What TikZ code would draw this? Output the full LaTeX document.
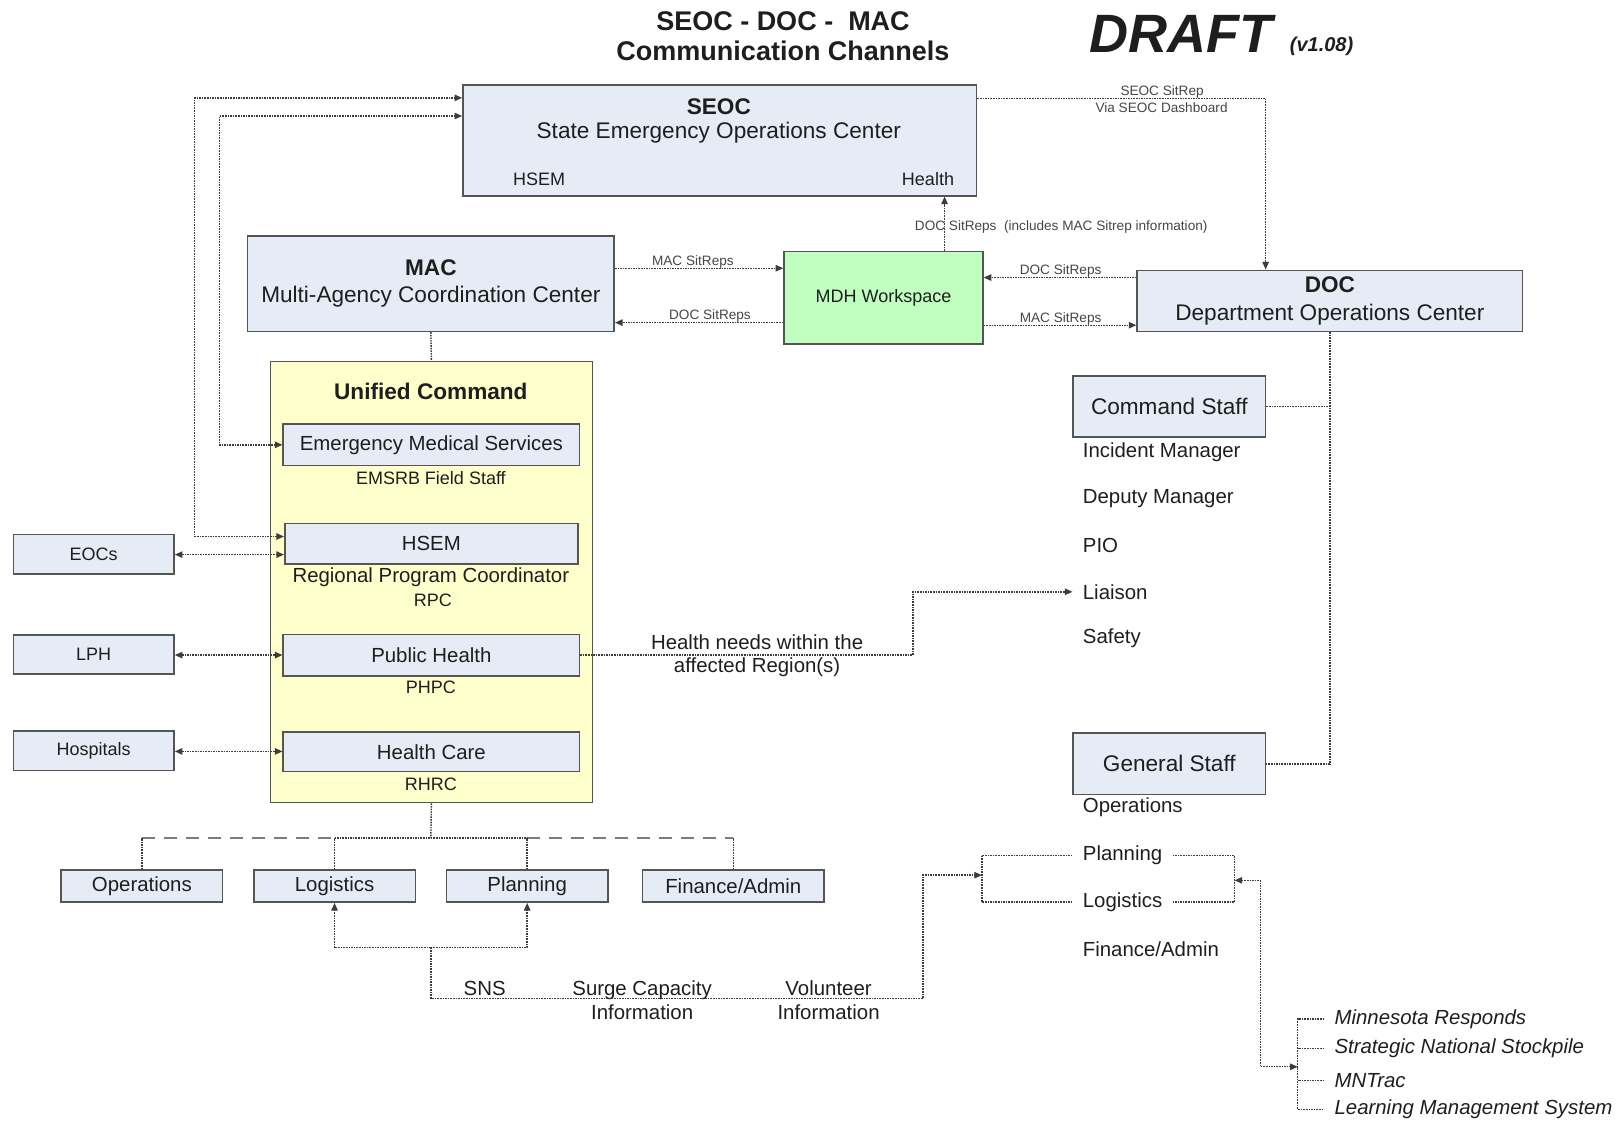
\documentclass[tikz,border=0pt]{standalone}
\usepackage{fontspec}
\setmainfont{Liberation Sans}
\usetikzlibrary{arrows.meta}
\newcommand\sx{0.51786pt}
\newcommand\fT{\fontsize{13.5}{15.5}\selectfont\bfseries}
\newcommand\fL{\fontsize{11.3}{13.6}\selectfont}
\newcommand\fM{\fontsize{10.2}{11.8}\selectfont}
\newcommand\fS{\fontsize{9}{10.8}\selectfont}
\newcommand\fX{\fontsize{6.8}{7.8}\selectfont}
\definecolor{boxblue}{RGB}{230,236,246}
\definecolor{boxline}{RGB}{85,85,85}
\definecolor{mdhgreen}{RGB}{192,255,192}
\definecolor{ucyellow}{RGB}{255,255,204}
\definecolor{conn}{RGB}{60,60,60}
\definecolor{busgray}{RGB}{125,125,125}
\definecolor{txt}{RGB}{30,30,30}
\definecolor{lbl}{RGB}{70,70,70}
\begin{document}
\begin{tikzpicture}[x=\sx,y=-\sx,
  box/.style={draw=boxline,line width=0.8pt,fill=boxblue,inner sep=0pt,align=center,text=txt},
  sz/.style 2 args={minimum width=#1*\sx,minimum height=#2*\sx},
  dl/.style={draw=conn,line width=0.7pt,dash pattern=on 0.8pt off 0.5pt},
  busd/.style={draw=busgray,line width=1.3pt,dash pattern=on 6.5pt off 4.5pt},
  arr/.style={-{Triangle[length=3.8pt,width=3.2pt]}},
  arrb/.style={{Triangle[length=3.8pt,width=3.2pt]}-{Triangle[length=3.8pt,width=3.2pt]}},
  lab/.style={text=lbl,inner sep=0pt,font=\fX},
  tn/.style={text=txt,inner sep=0pt},
  item/.style={anchor=west,inner xsep=5pt,inner ysep=0pt,text=txt,font=\fM}
]
\useasboundingbox (0,0) rectangle (1568,1087);

% titles
\node[tn,font=\fT] (t1) at (756,20) {SEOC - DOC -\ \ MAC};
\node[tn,font=\fT] (t2) at (756,49) {Communication Channels};
\node[tn,anchor=base west,font={\fontsize{27}{30}\selectfont\bfseries\itshape}] (draft) at (1052,51) {DRAFT};
\node[tn,anchor=base west,font={\fontsize{10}{12}\selectfont\bfseries\itshape}] (ver) at (1245,50) {(v1.08)};

% SEOC
\node[box,sz={496}{107}] (seoc) at (695,135.5) {};
\node[tn,font={\fL\bfseries}] (seoct) at (694,103.5) {SEOC};
\node[tn,font=\fL] (seocn) at (694,128.5) {State Emergency Operations Center};
\node[tn,font=\fS] (seoch) at (520.5,173.5) {HSEM};
\node[tn,font=\fS] (seochl) at (896,173) {Health};

% MAC, MDH, DOC
\node[box,sz={354}{92},font=\fL] (mac) at (416,274) {\textbf{MAC}\\Multi-Agency Coordination Center};
\node[box,sz={192}{89},fill=mdhgreen,font=\fS] (mdh) at (853,287.5) {MDH Workspace};
\node[box,sz={372}{59},font=\fL] (doc) at (1284,290.5) {\textbf{DOC}\\Department Operations Center};

% SEOC -> DOC
\node[lab] (l1) at (1122,88.5) {SEOC SitRep};
\node[lab] (l2) at (1121.5,103.5) {Via SEOC Dashboard};
\draw[dl,arr] (seoc.east |- 0,95) -| (1222,0 |- doc.north);

% MDH -> SEOC
\node[lab,anchor=west] (l3) at (883,219.5) {DOC SitReps\ \ (includes MAC Sitrep information)};
\draw[dl,arr] (912,0 |- mdh.north) -- (912,0 |- seoc.south);

% MAC <-> MDH
\node[lab] (l4) at (669,253) {MAC SitReps};
\draw[dl,arr] (mac.east |- 0,259) -- (mdh.west |- 0,259);
\node[lab] (l5) at (685.5,305.5) {DOC SitReps};
\draw[dl,arr] (mdh.west |- 0,311.5) -- (mac.east |- 0,311.5);

% DOC <-> MDH
\node[lab] (l6) at (1024,261.6) {DOC SitReps};
\draw[dl,arr] (doc.west |- 0,268) -- (mdh.east |- 0,268);
\node[lab] (l7) at (1024,308) {MAC SitReps};
\draw[dl,arr] (mdh.east |- 0,314) -- (doc.west |- 0,314);

% Unified Command
\node[box,sz={311}{426},fill=ucyellow] (uc) at (416.5,562) {};
\draw[dl] (mac.south) -- (uc.north);
\node[tn,font={\fL\bfseries}] (uct) at (416,377.5) {Unified Command};
\node[box,sz={286}{40},font=\fM] (ems) at (416.5,429.5) {Emergency Medical Services};
\node[tn,font=\fS] (emsrb) at (416,462) {EMSRB Field Staff};
\node[box,sz={283}{39},font=\fM] (hsem) at (416.5,525) {HSEM};
\node[tn,font=\fM] (rpc1) at (416,557) {Regional Program Coordinator};
\node[tn,font=\fS] (rpc2) at (418,579.5) {RPC};
\node[box,sz={286}{40},font=\fM] (ph) at (416.5,632.5) {Public Health};
\node[tn,font=\fS] (phpc) at (416,664) {PHPC};
\node[box,sz={286}{38},font=\fM] (hc) at (416.5,726) {Health Care};
\node[tn,font=\fS] (rhrc) at (416,757) {RHRC};

% left boxes
\node[box,sz={155}{38},font=\fS] (eocs) at (90.5,535) {EOCs};
\node[box,sz={155}{38},font=\fS] (lph) at (90.5,632) {LPH};
\node[box,sz={155}{38},font=\fS] (hosp) at (90.5,725) {Hospitals};
\draw[dl,arrb] (eocs.east |- 0,535.5) -- (hsem.west |- 0,535.5);
\draw[dl,arrb] (lph.east |- 0,632.5) -- (ph.west |- 0,632.5);
\draw[dl,arrb] (hosp.east |- 0,725.5) -- (hc.west |- 0,725.5);

% links to SEOC
\draw[dl,arrb] (hsem.west |- 0,518) -| (188,94.5) -- (seoc.west |- 0,94.5);
\draw[dl,arrb] (ems.west) -| (212,112) -- (seoc.west |- 0,112);

% staff
\node[box,sz={186}{59},font=\fL] (cs) at (1129,392.5) {Command Staff};
\node[box,sz={186}{59},font=\fL] (gs) at (1129,737.5) {General Staff};
\draw[dl] (doc.south) -- (doc.south |- gs.east) -- (gs.east);
\draw[dl] (cs.east) -- (cs.east -| doc.south);
\node[item] (im) at (1035.5,436.7) {Incident Manager};
\node[item] (dm) at (1035.5,481.6) {Deputy Manager};
\node[item] (pio) at (1035.5,526.5) {PIO};
\node[item] (liai) at (1035.5,571.4) {Liaison};
\node[item] (saf) at (1035.5,616.3) {Safety};
\node[item] (gops) at (1035.5,779.8) {Operations};
\node[item] (gplan) at (1035.5,826) {Planning};
\node[item] (glog) at (1035.5,871) {Logistics};
\node[item] (gfin) at (1035.5,916) {Finance/Admin};

% health needs
\node[tn,font=\fM,align=center] (hn) at (731,633) {Health needs within the\\affected Region(s)};
\draw[dl,arr] (ph.east) -| (881.5,0 |- liai.west) -- (liai.west);

% bottom section boxes
\node[box,sz={156}{31},font=\fM] (ops) at (137,855.5) {Operations};
\node[box,sz={156}{31},font=\fM] (logi) at (323,855.5) {Logistics};
\node[box,sz={156}{31},font=\fM] (plan) at (509,855.5) {Planning};
\node[box,sz={175}{31},font=\fM] (fin) at (708,855.5) {Finance/Admin};
\coordinate (busc) at (416,809);
\draw[dl] (uc.south) -- (busc);
\draw[busd] (ops.north |- busc) -- (logi.north |- busc);
\draw[busd] (plan.north |- busc) -- (fin.north |- busc);
\draw[dl] (logi.north |- busc) -- (plan.north |- busc);
\foreach \n in {ops,logi,plan,fin} \draw[dl] (\n.north) -- (\n.north |- busc);

% info flows
\node[tn,font=\fM] (snsl) at (468,954.5) {SNS};
\node[tn,font=\fM,align=center] (surge) at (620,966) {Surge Capacity\\Information};
\node[tn,font=\fM,align=center] (vol) at (800,966) {Volunteer\\Information};
\coordinate (j1) at (416,915);
\coordinate (j2) at (416,964);
\coordinate (gbl) at (948,845);
\draw[dl,arr] (j1) -| (logi.south);
\draw[dl,arr] (j1) -| (plan.south);
\draw[dl,arr] (j1) -- (j2) -| (891,845) -- (gbl);
\draw[dl] (gplan.west) -| (gbl) |- (glog.west);
\coordinate (gbr) at (1192,850);
\draw[dl] (gplan.east) -| (gbr) |- (glog.east);
\coordinate (ib) at (1253,1030);
\draw[dl,arrb] (gbr) -| (1217,1030) -- (ib);

% resources
\node[item,font={\fM\itshape}] (mnr) at (1278.5,984) {Minnesota Responds};
\node[item,font={\fM\itshape}] (sns2) at (1278.5,1012.5) {Strategic National Stockpile};
\node[item,font={\fM\itshape}] (mnt) at (1278.5,1043) {MNTrac};
\node[item,font={\fM\itshape}] (lms) at (1278.5,1071) {Learning Management System};
\draw[dl] (mnr.west) -| (ib) |- (lms.west);
\draw[dl] (sns2.west) -- (sns2.west -| ib);
\draw[dl] (mnt.west) -- (mnt.west -| ib);
\end{tikzpicture}
\end{document}
